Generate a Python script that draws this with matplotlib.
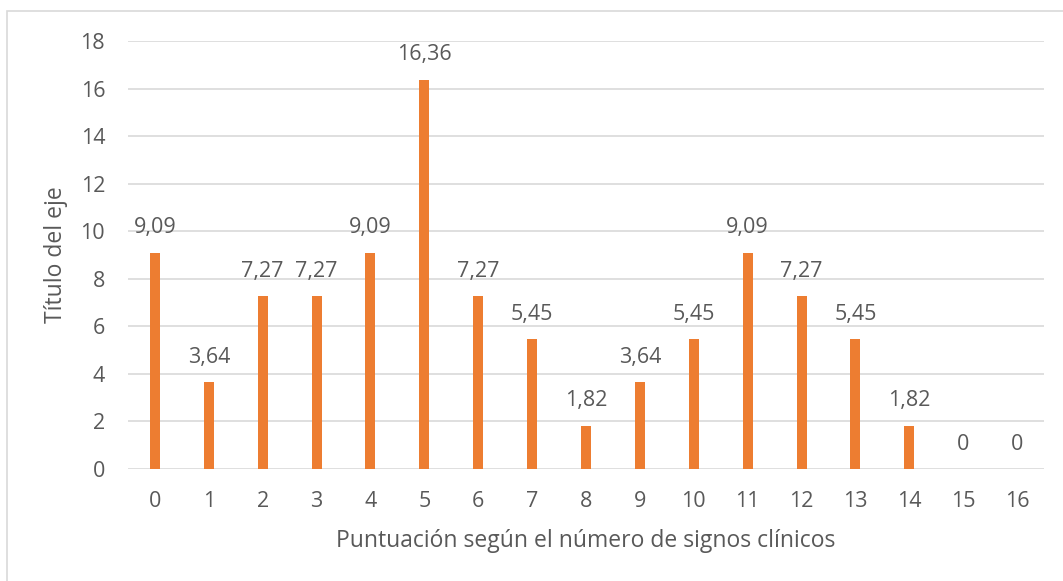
import matplotlib
matplotlib.use("Agg")
import matplotlib.pyplot as plt
import matplotlib.patches as patches
import numpy as np

plt.rcParams['font.family'] = ['Open Sans', 'DejaVu Sans']

puntos = list(range(17))
porcentaje = [9.09, 3.64, 7.27, 7.27, 9.09, 16.36, 7.27, 5.45, 1.82, 3.64,
              5.45, 9.09, 7.27, 5.45, 1.82, 0, 0]
yticks = [0, 2, 4, 6, 8, 10, 12, 14, 16, 18]

naranja = "#ED7D31"
gris = "#595959"
rejilla = "#D9D9D9"

fig = plt.figure(figsize=(10.63, 5.81), dpi=100)
ax = fig.add_axes([128/1063, 1-469/581, (1044-128)/1063, (469-41)/581])

# chart frame (only top/left edges fall inside the image)
fig.patches.append(patches.Rectangle((7/1063, -0.1), 1.2, 1-11/581+0.1,
                                     transform=fig.transFigure, fill=False,
                                     edgecolor=rejilla, linewidth=1.2))

x = np.arange(len(puntos))
ax.bar(x, porcentaje, width=0.185, color=naranja, zorder=3)

for xi, v in zip(x, porcentaje):
    txt = ("%.2f" % v).replace(".", ",") if v != 0 else "0"
    ax.annotate(txt, (xi, v), xytext=(0, 18), textcoords="offset points",
                ha="center", va="center", fontsize=15.5, color=gris)

ax.set_xlim(-0.5, len(puntos)-0.5)
ax.set_ylim(0, 18)
ax.set_yticks(yticks)
ax.set_xticks(x)
ax.set_xticklabels([str(p) for p in puntos])
ax.yaxis.grid(True, color=rejilla, linewidth=1.2, zorder=0)
for s in ax.spines.values():
    s.set_visible(False)
ax.tick_params(length=0, labelsize=15.5, colors=gris)
ax.tick_params(axis='x', pad=15.5)
ax.tick_params(axis='y', pad=16.5)

ax.set_xlabel("Puntuación según el número de signos clínicos", fontsize=16.5,
              color=gris, va="center")
ax.xaxis.set_label_coords(0.5, -0.168)
ax.set_ylabel("Título del eje", fontsize=16.5, color=gris, va="center")
ax.yaxis.set_label_coords(-0.079, 0.5)

fig.savefig("out.png", dpi=100)
